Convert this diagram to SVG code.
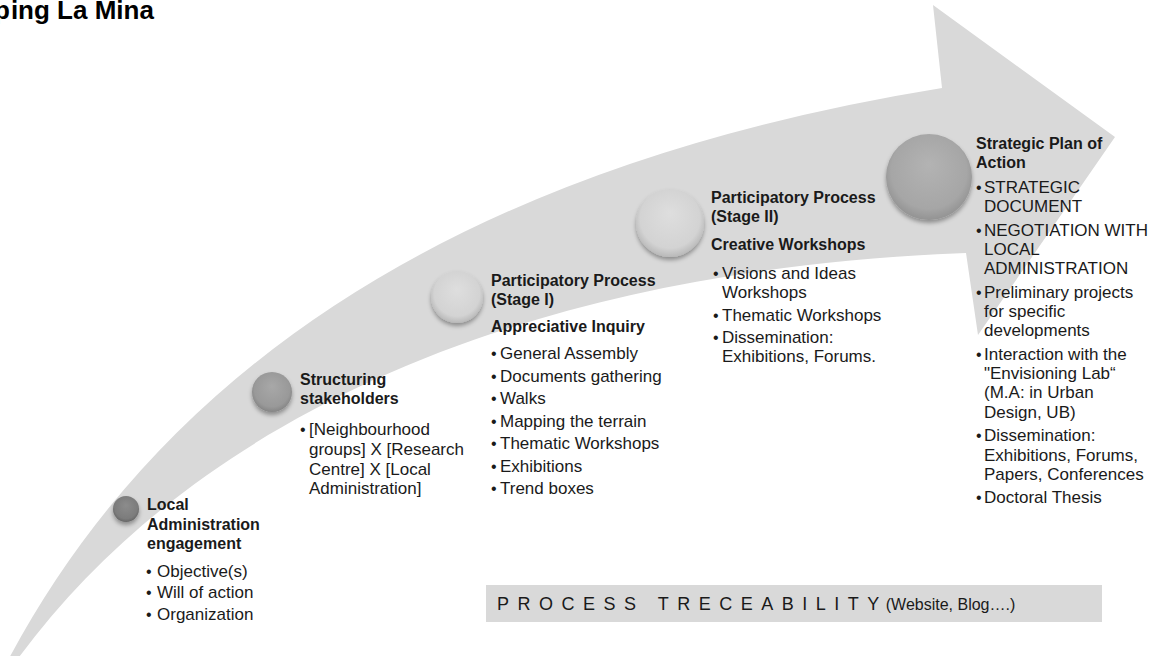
<svg xmlns="http://www.w3.org/2000/svg" width="1158" height="656" viewBox="0 0 1158 656">
<style>
.h{font-family:"Liberation Sans",Arial,sans-serif;font-weight:bold;font-size:16px;fill:#1a1a1a}
.t{font-family:"Liberation Sans",Arial,sans-serif;font-size:17px;fill:#1a1a1a}
.b{font-family:"Liberation Sans",Arial,sans-serif;font-size:16px;fill:#1a1a1a}
.title{font-family:"Liberation Sans",Arial,sans-serif;font-weight:bold;font-size:26px;fill:#000}
.bar{font-family:"Liberation Sans",Arial,sans-serif;font-size:18px;fill:#1a1a1a;letter-spacing:8.5px}
.bar2{font-family:"Liberation Sans",Arial,sans-serif;font-size:16px;fill:#1a1a1a}
</style>
<defs>
<filter id="sh" x="-30%" y="-30%" width="160%" height="170%">
<feDropShadow dx="0" dy="3" stdDeviation="2" flood-color="#000" flood-opacity="0.35"/>
</filter>
<radialGradient id="g1" cx="50%" cy="45%" r="55%" fx="50%" fy="35%">
<stop offset="0" stop-color="#8c8c8c"/><stop offset="0.8" stop-color="#7c7c7c"/><stop offset="1" stop-color="#666"/>
</radialGradient>
<radialGradient id="g2" cx="50%" cy="45%" r="55%" fx="50%" fy="35%">
<stop offset="0" stop-color="#a8a8a8"/><stop offset="0.8" stop-color="#999"/><stop offset="1" stop-color="#858585"/>
</radialGradient>
<radialGradient id="g3" cx="50%" cy="45%" r="55%" fx="50%" fy="35%">
<stop offset="0" stop-color="#dedede"/><stop offset="0.8" stop-color="#d3d3d3"/><stop offset="1" stop-color="#b9b9b9"/>
</radialGradient>
<radialGradient id="g5" cx="50%" cy="45%" r="55%" fx="50%" fy="35%">
<stop offset="0" stop-color="#b3b3b3"/><stop offset="0.8" stop-color="#a6a6a6"/><stop offset="1" stop-color="#939393"/>
</radialGradient>
</defs>
<rect width="1158" height="656" fill="#fff"/>
<text class="title" x="-6" y="19">p<tspan dx="1">ing La Mina</tspan></text>
<g id="connectors">
<path id="arrow" d="M 6 664 Q 250 200 942 88 L 933 5 L 1115 137 L 978 335 L 966 253 C 520 270 190 420 14 664 Z" fill="#d9d9d9"/>
</g>
<g id="node1">
<circle cx="126" cy="509" r="13" fill="url(#g1)" filter="url(#sh)"/>
<text class="h" x="147" y="510">Local</text>
<text class="h" x="147" y="529.5">Administration</text>
<text class="h" x="147" y="549">engagement</text>
<text class="b" x="146" y="577">•</text><text class="t" x="157" y="577">Objective(s)</text>
<text class="b" x="146" y="598">•</text><text class="t" x="157" y="598">Will of action</text>
<text class="b" x="146" y="620">•</text><text class="t" x="157" y="620">Organization</text>
</g>
<g id="node2">
<circle cx="272" cy="392" r="20" fill="url(#g2)" filter="url(#sh)"/>
<text class="h" x="300" y="385">Structuring</text>
<text class="h" x="300" y="404">stakeholders</text>
<text class="b" x="300" y="435">•</text><text class="t" x="309" y="435">[Neighbourhood</text>
<text class="t" x="309" y="455">groups] X [Research</text>
<text class="t" x="309" y="475">Centre] X [Local</text>
<text class="t" x="309" y="494">Administration]</text>
</g>
<g id="node3">
<circle cx="457" cy="297" r="26" fill="url(#g3)" filter="url(#sh)"/>
<text class="h" x="491" y="286">Participatory Process</text>
<text class="h" x="491" y="305">(Stage I)</text>
<text class="h" x="491" y="332">Appreciative Inquiry</text>
<text class="b" x="491" y="359">•</text><text class="t" x="500" y="359">General Assembly</text>
<text class="b" x="491" y="381.5">•</text><text class="t" x="500" y="381.5">Documents gathering</text>
<text class="b" x="491" y="404">•</text><text class="t" x="500" y="404">Walks</text>
<text class="b" x="491" y="426.5">•</text><text class="t" x="500" y="426.5">Mapping the terrain</text>
<text class="b" x="491" y="449">•</text><text class="t" x="500" y="449">Thematic Workshops</text>
<text class="b" x="491" y="471.5">•</text><text class="t" x="500" y="471.5">Exhibitions</text>
<text class="b" x="491" y="494">•</text><text class="t" x="500" y="494">Trend boxes</text>
</g>
<g id="node4">
<circle cx="670" cy="223" r="34" fill="url(#g3)" filter="url(#sh)"/>
<text class="h" x="711" y="203">Participatory Process</text>
<text class="h" x="711" y="222">(Stage II)</text>
<text class="h" x="711" y="250">Creative Workshops</text>
<text class="b" x="713" y="279">•</text><text class="t" x="722" y="279">Visions and Ideas</text>
<text class="t" x="722" y="298">Workshops</text>
<text class="b" x="713" y="321">•</text><text class="t" x="722" y="321">Thematic Workshops</text>
<text class="b" x="713" y="343">•</text><text class="t" x="722" y="343">Dissemination:</text>
<text class="t" x="722" y="362">Exhibitions, Forums.</text>
</g>
<g id="node5">
<circle cx="929" cy="177" r="43" fill="url(#g5)" filter="url(#sh)"/>
<text class="h" x="976" y="149">Strategic Plan of</text>
<text class="h" x="976" y="167.5">Action</text>
<text class="b" x="976" y="192.5">•</text><text class="t" x="984" y="192.5">STRATEGIC</text>
<text class="t" x="984" y="212">DOCUMENT</text>
<text class="b" x="976" y="235.5">•</text><text class="t" x="984" y="235.5">NEGOTIATION WITH</text>
<text class="t" x="984" y="254.5">LOCAL</text>
<text class="t" x="984" y="274">ADMINISTRATION</text>
<text class="b" x="976" y="297.5">•</text><text class="t" x="984" y="297.5">Preliminary projects</text>
<text class="t" x="984" y="316.5">for specific</text>
<text class="t" x="984" y="336">developments</text>
<text class="b" x="976" y="359.5">•</text><text class="t" x="984" y="359.5">Interaction with the</text>
<text class="t" x="984" y="378.5">"Envisioning Lab“</text>
<text class="t" x="984" y="398">(M.A: in Urban</text>
<text class="t" x="984" y="417.5">Design, UB)</text>
<text class="b" x="976" y="441">•</text><text class="t" x="984" y="441">Dissemination:</text>
<text class="t" x="984" y="460.5">Exhibitions, Forums,</text>
<text class="t" x="984" y="480">Papers, Conferences</text>
<text class="b" x="976" y="503">•</text><text class="t" x="984" y="503">Doctoral Thesis</text>
</g>
<g id="traceability">
<rect x="486" y="585" width="616" height="37" fill="#d9d9d9"/>
<text x="497" y="610"><tspan class="bar">PROCESS TRECEABILITY</tspan><tspan class="bar2" dx="-2">(Website, Blog….)</tspan></text>
</g>
</svg>
